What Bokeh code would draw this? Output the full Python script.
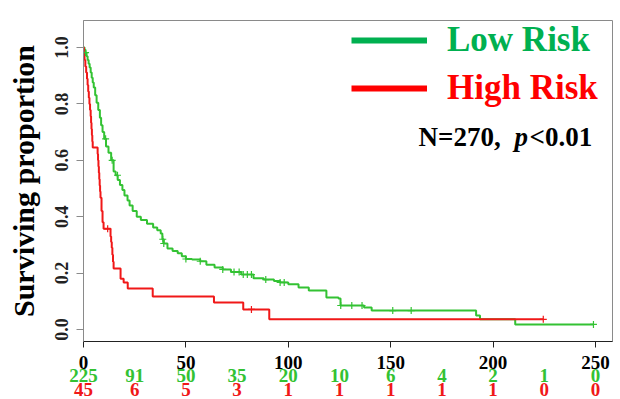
import numpy as np
from bokeh.plotting import figure
from bokeh.layouts import column
from bokeh.models import (Range1d, FixedTicker, Legend, LegendItem, Label,
                          ColumnDataSource, PrintfTickFormatter)
from bokeh.core.properties import value
from bokeh.embed import file_html
from bokeh.resources import INLINE

# ---------------- data ----------------
low_t = [0, 0.5, 1, 1.5, 2, 2.5, 3, 3.5, 4, 4.5, 5, 5.7, 6.4, 7.2, 8, 8.6, 9.3,
         10.1, 11, 12.2, 13.5, 14.7, 15.7, 16.7, 17.8, 19, 20, 21.5, 22.5, 24,
         26, 28, 31, 34, 36, 37.7, 38.5, 39.2, 41, 43.5, 46, 48, 50, 53, 57, 60,
         64, 68, 72, 77, 83, 88, 93, 96, 100, 105, 110, 118.6, 124.5, 125.5,
         137, 140.7, 191.7, 193.6, 210.8]
low_s = [1.0, 0.991, 0.982, 0.969, 0.956, 0.942, 0.929, 0.911, 0.893, 0.876,
         0.858, 0.831, 0.804, 0.778, 0.751, 0.724, 0.7, 0.676, 0.649, 0.627,
         0.6, 0.56, 0.547, 0.53, 0.512, 0.495, 0.475, 0.457, 0.44, 0.42, 0.4,
         0.388, 0.375, 0.362, 0.352, 0.34, 0.32, 0.305, 0.287, 0.278, 0.27,
         0.26, 0.25, 0.248, 0.242, 0.23, 0.22, 0.213, 0.204, 0.195, 0.182,
         0.177, 0.172, 0.167, 0.16, 0.149, 0.138, 0.113, 0.11, 0.085, 0.078,
         0.067, 0.05, 0.036, 0.018]
low_end = 249
low_censor = [1, 10.8, 14, 16.6, 38.7, 39.2, 50, 57, 68, 73.5, 76, 78, 80, 82,
              89, 96, 98, 125.6, 131, 136, 151, 160, 249]

high_t = [0, 0.2, 0.5, 0.9, 1.3, 1.7, 2.0, 2.3, 2.6, 2.9, 3.2, 3.5, 3.7, 3.9,
          4.1, 4.3, 4.5, 6.9, 7.1, 7.3, 7.5, 7.7, 7.9, 8.1, 8.3, 8.8, 9.3, 9.8,
          13.2, 13.5, 13.8, 14.1, 14.4, 14.7, 18.1, 19.6, 21.6, 33.8, 63.7, 78,
          90.7]
high_s = [1.0, 0.978, 0.956, 0.933, 0.911, 0.889, 0.867, 0.844, 0.822, 0.8,
          0.778, 0.756, 0.733, 0.711, 0.689, 0.667, 0.645, 0.622, 0.6, 0.578,
          0.556, 0.533, 0.511, 0.489, 0.467, 0.42, 0.38, 0.357, 0.33, 0.31,
          0.29, 0.265, 0.24, 0.216, 0.18, 0.167, 0.145, 0.117, 0.096, 0.071,
          0.036]
high_end = 224.5
high_censor = [11.8, 82, 224.5]

risk_times = [0, 25, 50, 75, 100, 125, 150, 175, 200, 225, 250]
risk_low = [225, 91, 50, 35, 20, 10, 6, 4, 2, 1, 0]
risk_high = [45, 6, 5, 3, 1, 1, 1, 1, 1, 0, 0]
risk_rows = {"low": 1, "high": 0}

x_ticks = [0, 50, 100, 150, 200, 250]
y_ticks = [0.0, 0.2, 0.4, 0.6, 0.8, 1.0]

# ---------------- style / layout ----------------
GREEN_LINE = "#33C233"
GREEN_LEG = "#00B050"
RED = "#FF0000"
RED_LINE = "#F01818"
FONT = "Liberation Serif"
W, H = 620, 399
LEFT, RIGHT = 83, 8
X_MAX = 258.3
PX_PER_UNIT = (W - LEFT - RIGHT) / X_MAX
P_H = 380
STRIP_TOP = 360


def surv_at(ts, ss, t):
    i = np.searchsorted(np.asarray(ts), t, side="right") - 1
    return np.asarray(ss)[i]


p = figure(width=W, height=P_H, output_backend="svg", toolbar_location=None,
           x_range=Range1d(0, X_MAX), y_range=Range1d(-0.0426, 1.0957),
           min_border_left=LEFT, min_border_top=20, min_border_right=RIGHT,
           min_border_bottom=P_H - 341, background_fill_color="white",
           border_fill_color="white")
p.grid.visible = False
p.outline_line_color = "#8a8a8a"
p.outline_line_width = 1

# curves
lx = low_t + [low_end]
ly = low_s + [low_s[-1]]
hx = high_t + [high_end]
hy = high_s + [high_s[-1]]
p.step(lx, ly, mode="after", line_color=GREEN_LINE, line_width=2)
p.step(hx, hy, mode="after", line_color=RED_LINE, line_width=2)

p.scatter(low_censor, [surv_at(low_t, low_s, t) for t in low_censor],
          marker="cross", size=7, line_color=GREEN_LINE, line_width=1.2)
p.scatter(high_censor, [surv_at(high_t, high_s, t) for t in high_censor],
          marker="cross", size=7, line_color=RED_LINE, line_width=1.2)

# axes
xa = p.xaxis[0]
xa.ticker = FixedTicker(ticks=x_ticks)
xa.minor_tick_line_color = None
xa.major_tick_out = 6
xa.major_tick_in = 0
xa.axis_line_color = "#222222"
xa.major_tick_line_color = "#222222"
xa.major_label_text_font = FONT
xa.major_label_text_font_style = "bold"
xa.major_label_text_font_size = "19px"
xa.major_label_text_color = "black"
xa.major_label_standoff = 8

ya = p.yaxis[0]
ya.ticker = FixedTicker(ticks=y_ticks)
ya.formatter = PrintfTickFormatter(format="%.1f")
ya.minor_tick_line_color = None
ya.major_tick_out = 7
ya.major_tick_in = 0
ya.axis_line_color = "#8a8a8a"
ya.major_tick_line_color = "#8a8a8a"
ya.major_label_orientation = "vertical"
ya.major_label_text_font = FONT
ya.major_label_text_font_style = "bold"
ya.major_label_text_font_size = "18px"
ya.major_label_text_color = "#222222"
ya.major_label_standoff = 8
ya.axis_label = "Surviving proportion"
ya.axis_label_text_font = FONT
ya.axis_label_text_font_style = "bold"
ya.axis_label_text_font_size = "30px"
ya.axis_label_text_color = "black"
ya.axis_label_standoff = 13

# legends
dummy_low = p.line([np.nan], [np.nan], line_color=GREEN_LEG, line_width=6)
dummy_high = p.line([np.nan], [np.nan], line_color=RED, line_width=6)
for rend, lab, col, vy in ((dummy_low, "Low Risk", GREEN_LEG, 281),
                           (dummy_high, "High Risk", RED, 233)):
    leg = Legend(items=[LegendItem(label=lab, renderers=[rend])],
                 location=(268, vy), padding=0, margin=0, spacing=0,
                 glyph_width=76, glyph_height=40, label_height=40,
                 label_standoff=20, border_line_color=None,
                 background_fill_alpha=0, label_text_font=FONT,
                 label_text_font_style="bold", label_text_font_size="35px",
                 label_text_color=col)
    p.add_layout(leg, "center")

# N / p-value annotation
base_x, base_y = 163.6, 0.681
for txt, off, style in (("N=270,", 0, "bold"), ("p", 96, "bold italic"),
                        ("<0.01", 111, "bold")):
    p.add_layout(Label(x=base_x, y=base_y, x_offset=off, text=txt,
                       text_baseline="alphabetic", text_align="left",
                       text_font=FONT, text_font_style=style,
                       text_font_size="27px", text_color="black"))

# ---------------- strip below: numbers at risk (overlaps p's margin) -------
S_LEFT = 40
S_H = H - STRIP_TOP
t = figure(width=W, height=S_H, output_backend="svg", toolbar_location=None,
           x_range=Range1d(-(LEFT - S_LEFT) / PX_PER_UNIT,
                           (W - LEFT) / PX_PER_UNIT),
           y_range=Range1d(-0.75, 2.036), x_axis_location=None,
           y_axis_location=None, min_border_left=S_LEFT, min_border_right=0,
           min_border_top=0, min_border_bottom=0,
           background_fill_alpha=0, border_fill_alpha=0,
           margin=(-(P_H - STRIP_TOP), 0, 0, 0))
t.grid.visible = False
t.outline_line_color = None
for fig in (p, t):
    if "frame_align" in fig.properties():
        fig.frame_align = False

for vals, row, col in ((risk_low, risk_rows["low"], GREEN_LINE),
                       (risk_high, risk_rows["high"], RED_LINE)):
    src = ColumnDataSource(dict(x=risk_times, y=[row] * len(risk_times),
                                txt=[str(v) for v in vals]))
    t.text(x="x", y="y", text="txt", source=src, text_align="center",
           text_baseline="middle", text_font=value(FONT),
           text_font_style="bold", text_font_size="19px", text_color=col)

layout = column(p, t, spacing=0)
open("out.html", "w").write(file_html(layout, INLINE))
